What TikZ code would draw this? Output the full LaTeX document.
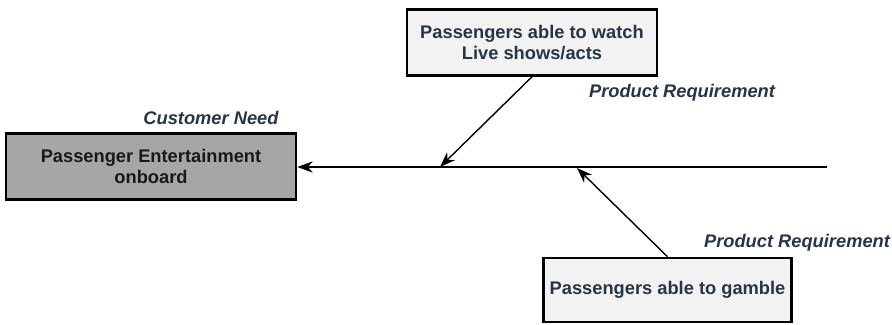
\documentclass[tikz,border=0pt]{standalone}
\usepackage{fontspec}
\setmainfont{Liberation Sans}
\usetikzlibrary{arrows.meta}

\definecolor{needgrey}{HTML}{A6A6A6}
\definecolor{reqfill}{HTML}{F2F2F2}
\definecolor{slate}{HTML}{263548}

\begin{document}
\begin{tikzpicture}[x=0.025cm,y=-0.025cm]

      \useasboundingbox (0,0) rectangle (892,324);

      \begin{scope}[every node/.style={draw,line width=1.8pt,align=center,font=\bfseries\fontsize{13}{14.5}\selectfont}]
        \node[fill=needgrey,text=black!90,minimum width=7.25cm,minimum height=1.65cm] (need) at (151,166.5) {Passenger Entertainment\\onboard};
        \node[fill=reqfill,text=slate,minimum width=6.25cm,minimum height=1.65cm] (watch) at (532,42.5) {Passengers able to watch\\Live shows/acts};
        \node[fill=reqfill,text=slate,minimum width=6.2cm,minimum height=1.6cm] (gamble) at (667.5,290) {Passengers able to gamble};
      \end{scope}

      \begin{scope}[every node/.style={text=slate,font=\bfseries\itshape\fontsize{13}{15}\selectfont}]
        \node (needlabel) at (211,118) {Customer Need};
        \node (reqtop)    at (682,93)  {Product Requirement};
        \node (reqbottom) at (797,243) {Product Requirement};
      \end{scope}

      % spine and the points where the branches meet it
      \coordinate (tail) at (827,167);
      \coordinate (j1) at (440,167);
      \coordinate (j2) at (577,168);

      \begin{scope}[every path/.style={draw,line width=1pt,-{Stealth[length=11pt,width=8pt]}}]
        \path (tail) -- (need.east |- tail);
        \path (watch.south) -- (j1);
        \path (gamble.north) -- (j2);
      \end{scope}

    \end{tikzpicture}
\end{document}
